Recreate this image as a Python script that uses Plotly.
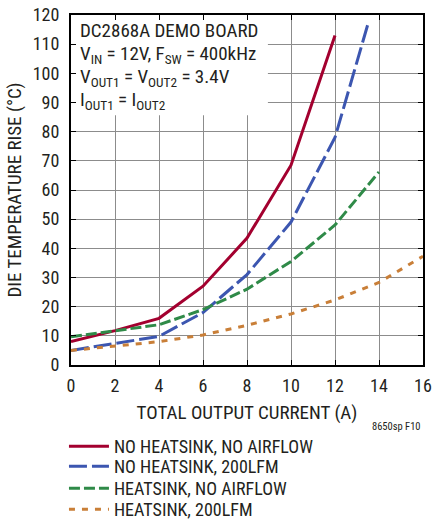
import plotly.graph_objects as go

# die temperature rise vs total output current
current = [0, 2, 4, 6, 8, 10, 12, 14, 16]

rise_nohs_noair = [8, 11.8, 16, 27, 43.5, 68.5, 113]
current_nohs_200 = [0, 2, 4, 6, 8, 10, 12, 13.5]
rise_nohs_200 = [5, 7.5, 9.8, 18, 31, 49, 78, 117]
rise_hs_noair = [9.7, 11.8, 13.8, 19, 26, 35.5, 48, 66.2]
rise_hs_200 = [5, 6.5, 8, 10.3, 13.6, 17.5, 22.3, 28.3, 37.3]

names = ['NO HEATSINK, NO AIRFLOW', 'NO HEATSINK, 200LFM',
         'HEATSINK, NO AIRFLOW', 'HEATSINK, 200LFM']
cond_lines = ['DC2868A DEMO BOARD',
              'V<sub>IN</sub> = 12V, F<sub>SW</sub> = 400kHz',
              'V<sub>OUT1</sub> = V<sub>OUT2</sub> = 3.4V',
              'I<sub>OUT1</sub> = I<sub>OUT2</sub>']

FONT = 'Roboto Condensed, Liberation Sans Narrow, sans-serif'
TXT = '#231f20'

fig = go.Figure()
fig.add_trace(go.Scatter(x=current[:7], y=rise_nohs_noair, name=names[0], mode='lines',
                         legend='legend', line=dict(color='#a3002f', width=3)))
fig.add_trace(go.Scatter(x=current_nohs_200, y=rise_nohs_200, name=names[1], mode='lines',
                         legend='legend2', line=dict(color='#3c56b0', width=3, dash='18px,5px')))
fig.add_trace(go.Scatter(x=current[:8], y=rise_hs_noair, name=names[2], mode='lines',
                         legend='legend3', line=dict(color='#2f8a48', width=3, dash='11px,4px')))
fig.add_trace(go.Scatter(x=current, y=rise_hs_200, name=names[3], mode='lines',
                         legend='legend4', line=dict(color='#c97f38', width=3, dash='6px,7px')))

# white box behind the conditions text, hides the grid
fig.add_shape(type='rect', x0=0, x1=8.95, y0=85.6, y1=120, layer='between',
              fillcolor='white', line_width=0)

for i, line in enumerate(cond_lines):
    fig.add_annotation(x=0, y=120, xref='x', yref='y', xanchor='left', yanchor='top',
                       xshift=7, yshift=-2 - 23 * i, text=line, showarrow=False, align='left',
                       font=dict(family=FONT, size=19, color=TXT))
fig.add_annotation(x=1, y=0, xref='paper', yref='paper', xanchor='right', yanchor='middle',
                   yshift=-61, text='8650sp F10', showarrow=False,
                   font=dict(family=FONT, size=10.5, color=TXT))

axis = dict(showline=True, linecolor='black', linewidth=2, mirror='ticks',
            ticks='inside', ticklen=5, tickcolor='black', tickwidth=1,
            showgrid=True, gridcolor='#8c8c8c', gridwidth=1.3, zeroline=False,
            automargin=False, tickfont=dict(family=FONT, size=18, color=TXT))
fig.update_xaxes(axis, range=[0, 16], dtick=2, ticklabelstandoff=3,
                 title=dict(text='TOTAL OUTPUT CURRENT (A)', standoff=11,
                            font=dict(family=FONT, size=19, color=TXT)))
fig.update_yaxes(axis, range=[0, 120], dtick=10, ticklabelstandoff=6,
                 title=dict(text='DIE TEMPERATURE RISE (°C)', standoff=6,
                            font=dict(family=FONT, size=19, color=TXT)))

# one legend per row so the rows can sit as tight as in the reference
tops = [428, 448, 470, 491]
leg = dict(xref='paper', yref='container', x=-0.02, xanchor='left', yanchor='top',
           font=dict(family=FONT, size=18, color=TXT), itemwidth=40,
           bgcolor='rgba(0,0,0,0)')
fig.update_layout(width=433, height=522, margin=dict(l=71, r=10, t=15, b=157),
                  plot_bgcolor='white', paper_bgcolor='white', showlegend=True,
                  font=dict(family=FONT, color=TXT),
                  legend=dict(leg, y=1 - tops[0] / 522),
                  legend2=dict(leg, y=1 - tops[1] / 522),
                  legend3=dict(leg, y=1 - tops[2] / 522),
                  legend4=dict(leg, y=1 - tops[3] / 522))
# the page's default 8px body margin would shift the chart
fig.write_html('out.html', config={'displayModeBar': False},
               post_script="document.body.style.margin='0';")
